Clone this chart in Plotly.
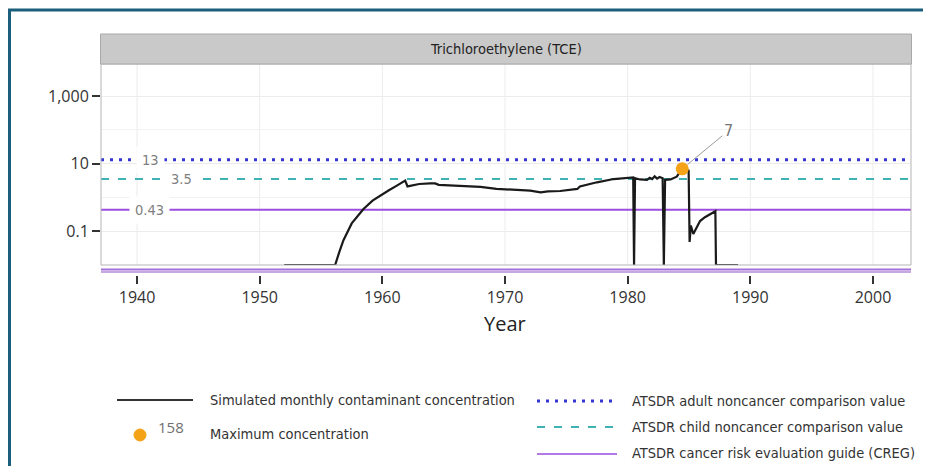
import math
import plotly.graph_objects as go

# ---------------- data ----------------
years = [1952.0, 1956.0, 1956.15, 1956.5, 1956.83, 1957.5, 1958.46, 1959.2, 1959.82,
         1960.5, 1961.18, 1961.86, 1962.05, 1963.0, 1963.9, 1964.3, 1964.6, 1966.0,
         1968.0, 1969.3, 1971.0, 1972.05, 1972.9, 1973.5, 1974.5, 1975.9, 1976.1,
         1977.5, 1978.85, 1980.35, 1980.45, 1980.52, 1980.6, 1981.0, 1981.57, 1981.8,
         1982.0, 1982.2, 1982.4, 1982.6, 1982.85, 1982.95, 1983.05, 1983.5, 1984.0,
         1984.2, 1984.45, 1984.7, 1984.97, 1985.05, 1985.15, 1985.35, 1985.7, 1985.9,
         1986.3, 1986.7, 1987.15, 1987.2, 1989.0]
conc = [0.01, 0.01, 0.01, 0.025, 0.054, 0.17, 0.455, 0.8, 1.13,
        1.6, 2.23, 3.13, 2.12, 2.5, 2.6, 2.6, 2.35, 2.25,
        2.05, 1.8, 1.7, 1.58, 1.41, 1.5, 1.55, 1.78, 2.1,
        2.8, 3.5, 3.9, 3.9, 0.01, 3.7, 3.4, 3.3, 3.8,
        3.5, 4.2, 3.6, 4.0, 3.7, 0.01, 3.3, 3.4, 4.1,
        5.2, 7.0, 6.5, 6.2, 0.048, 0.146, 0.083, 0.15, 0.2,
        0.26, 0.32, 0.39, 0.01, 0.01]

max_year = [1984.45]
max_value = [7]
max_label = ["7"]

ref_names = ["ATSDR adult noncancer comparison value",
             "ATSDR child noncancer comparison value",
             "ATSDR cancer risk evaluation guide (CREG)"]
ref_values = [13, 3.5, 0.43]
ref_labels = ["13", "3.5", "0.43"]
ref_label_years = [1941.06, 1943.6, 1940.98]

x_ticks = [1940, 1950, 1960, 1970, 1980, 1990, 2000]
y_ticks = [0.1, 10, 1000]
y_tick_labels = ["0.1", "10", "1,000"]
y_minor = [0.01, 1, 100]

x_range = [1937.06, 2003.1]
y_range_log = [-2.0, 3.948]

panel_title = "Trichloroethylene (TCE)"
x_title = "Year"
line_name = "Simulated monthly contaminant concentration"
max_name = "Maximum concentration"
max_legend_num = "158"

# ---------------- geometry (page pixels; page has an 8px body margin) ----------------
OFF = 8
W, H = 931 - 2 * OFF, 474 - 2 * OFF
ML = 101 - OFF
MT = 64 - OFF
MR = W - (911 - OFF)
MB = H - (275 - OFF)
PW = W - ML - MR
PH = H - MT - MB


def PX(x):
    return (x - OFF - ML) / PW


def PY(y):
    return (H - MB - (y - OFF)) / PH


ydom0 = PY(265)

COND = "DejaVu Sans Condensed, Liberation Sans Narrow, sans-serif"
REG = "Open Sans, Noto Sans, sans-serif"

ref_colors = ["#3535d6", "#3fb3b3", "#9d4edd"]
ref_dashes = ["3px,6px", "8px,9px", "solid"]
ref_widths = [3, 2, 2]

fig = go.Figure()

for v, c, d, w, n in zip(ref_values, ref_colors, ref_dashes, ref_widths, ref_names):
    fig.add_trace(go.Scatter(x=x_range, y=[v, v], mode="lines",
                             line=dict(color=c, dash=d, width=w),
                             name=n, showlegend=False, hoverinfo="skip"))

fig.add_trace(go.Scatter(x=years, y=conc, mode="lines",
                         line=dict(color="#1a1a1a", width=2.2),
                         name=line_name, showlegend=False))

fig.add_trace(go.Scatter(x=max_year, y=max_value, mode="markers",
                         marker=dict(color="#f5a316", size=13),
                         name=max_name, showlegend=False))

shapes = []
for xv in x_ticks:
    shapes.append(dict(type="line", xref="x", yref="paper", x0=xv, x1=xv,
                       y0=ydom0, y1=1, line=dict(color="#ececec", width=1),
                       layer="below"))
shapes.append(dict(type="rect", xref="paper", yref="paper", x0=0, x1=1,
                   y0=ydom0, y1=1, line=dict(color="#b5b5b5", width=1)))
shapes.append(dict(type="rect", xref="paper", yref="paper", x0=PX(100.5), x1=PX(911.5),
                   y0=PY(64), y1=PY(34), fillcolor="#c9c9c9",
                   line=dict(color="#a9a9a9", width=1)))
shapes.append(dict(type="line", xref="paper", yref="paper", x0=0, x1=1,
                   y0=PY(269.5), y1=PY(269.5), line=dict(color="#a46fd9", width=2)))
shapes.append(dict(type="line", xref="paper", yref="paper", x0=0, x1=1,
                   y0=PY(272), y1=PY(272), line=dict(color="#c3a9df", width=2)))
# outer frame
shapes.append(dict(type="line", xref="paper", yref="paper", x0=PX(6), x1=PX(931),
                   y0=PY(10), y1=PY(10), line=dict(color="#1b5f7c", width=3)))
shapes.append(dict(type="line", xref="paper", yref="paper", x0=PX(9.5), x1=PX(9.5),
                   y0=PY(10), y1=PY(480), line=dict(color="#1b5f7c", width=3)))

# legend marks
shapes.append(dict(type="line", xref="paper", yref="paper", x0=PX(117), x1=PX(193),
                   y0=PY(400), y1=PY(400), line=dict(color="#333333", width=2)))
shapes.append(dict(type="circle", xref="paper", yref="paper", x0=PX(134), x1=PX(146),
                   y0=PY(441), y1=PY(429), fillcolor="#f5a316",
                   line=dict(color="#f5a316", width=1)))
leg_rows = [401, 427, 454]
leg_line_colors = ["#3535d6", "#3fb3b3", "#b27ae6"]
for yy, c, d, w in zip(leg_rows, leg_line_colors, ref_dashes, ref_widths):
    shapes.append(dict(type="line", xref="paper", yref="paper", x0=PX(537), x1=PX(617),
                       y0=PY(yy), y1=PY(yy), line=dict(color=c, dash=d, width=w)))

annotations = []
annotations.append(dict(xref="paper", yref="paper", x=PX(506), y=PY(49), text=panel_title,
                        showarrow=False, font=dict(family=COND, size=14.5, color="#222222"),
                        xanchor="center", yanchor="middle"))
annotations.append(dict(xref="paper", yref="paper", x=PX(505), y=PY(323), text=x_title,
                        showarrow=False, font=dict(family=REG, size=20, color="#222222"),
                        xanchor="center", yanchor="middle"))
for yr, v, lab in zip(ref_label_years, ref_values, ref_labels):
    annotations.append(dict(x=yr, y=math.log10(v), yref="y", xref="x", text=lab,
                            showarrow=False,
                            font=dict(family=COND, size=14.5, color="#808080"),
                            bgcolor="white", borderpad=5, xanchor="center",
                            yanchor="middle"))

annotations.append(dict(x=max_year[0], y=math.log10(max_value[0]), xref="x", yref="y",
                        text=max_label[0], showarrow=True, arrowhead=0, arrowwidth=1,
                        arrowcolor="#9a9a9a", ax=46, ay=-38, standoff=7,
                        font=dict(family=COND, size=16, color="#777777")))

leg_text_font = dict(family=COND, size=14.5, color="#333333")
annotations.append(dict(xref="paper", yref="paper", x=PX(208), y=PY(400), text=line_name,
                        showarrow=False, xanchor="left", yanchor="middle", font=leg_text_font))
annotations.append(dict(xref="paper", yref="paper", x=PX(208), y=PY(434), text=max_name,
                        showarrow=False, xanchor="left", yanchor="middle", font=leg_text_font))
annotations.append(dict(xref="paper", yref="paper", x=PX(156), y=PY(427), text=max_legend_num,
                        showarrow=False, xanchor="left", yanchor="middle",
                        font=dict(family=REG, size=15, color="#707070")))
for yy, n in zip([401, 427, 453], ref_names):
    annotations.append(dict(xref="paper", yref="paper", x=PX(630), y=PY(yy), text=n,
                            showarrow=False, xanchor="left", yanchor="middle",
                            font=leg_text_font))

fig.update_layout(
    width=W, height=H,
    margin=dict(l=ML, r=MR, t=MT, b=MB, pad=0),
    paper_bgcolor="white", plot_bgcolor="white",
    showlegend=False,
    shapes=shapes, annotations=annotations,
    xaxis=dict(range=x_range, tickvals=x_ticks, ticks="outside", ticklen=8, tickwidth=2,
               tickcolor="#333333", showgrid=False, zeroline=False, showline=False,
               anchor="free", position=0,
               tickfont=dict(family=REG, size=16, color="#333333")),
    yaxis=dict(type="log", range=y_range_log, domain=[ydom0, 1], tickvals=y_ticks,
               ticktext=y_tick_labels, ticks="outside", ticklen=8, tickwidth=2,
               tickcolor="#333333", showgrid=True, gridcolor="#ececec", gridwidth=1,
               zeroline=False, showline=False,
               minor=dict(tickvals=y_minor, showgrid=True, gridcolor="#f2f2f2", ticks=""),
               tickfont=dict(family=REG, size=16, color="#333333")),
)

fig.write_html("out.html", config={"displayModeBar": False})
